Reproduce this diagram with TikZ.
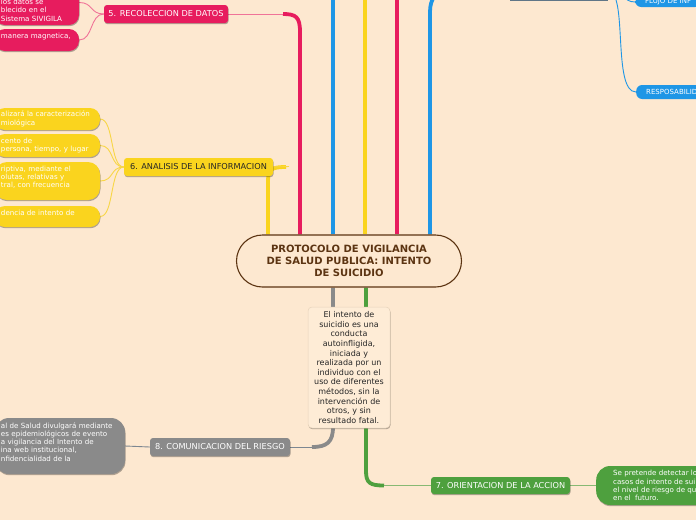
\documentclass[tikz,border=0pt]{standalone}
\usepackage{fontspec}
\setmainfont{DejaVu Sans}
\usetikzlibrary{shadows}
\pgfdeclarelayer{back}
\pgfdeclarelayer{lines}
\pgfsetlayers{back,lines,main}
\definecolor{bgc}{RGB}{253,232,208}
\definecolor{pinkc}{RGB}{231,28,94}
\definecolor{pinkl}{RGB}{240,115,152}
\definecolor{yelc}{RGB}{250,212,30}
\definecolor{yell}{RGB}{248,214,70}
\definecolor{bluec}{RGB}{30,150,230}
\definecolor{grayc}{RGB}{138,138,138}
\definecolor{grayl}{RGB}{125,135,145}
\definecolor{greenc}{RGB}{78,160,62}
\definecolor{greenl}{RGB}{135,185,115}
\definecolor{brownc}{RGB}{92,52,18}
\definecolor{slatec}{RGB}{96,118,135}
\definecolor{descfill}{RGB}{254,236,214}
\definecolor{descline}{RGB}{230,210,186}
\tikzset{
  shad/.style={drop shadow={shadow xshift=0.5pt,shadow yshift=-1.2pt,opacity=0.3,fill=black}},
  lbl/.style={shad, rounded corners=3pt, inner sep=0pt, font=\fontsize{8.2}{9.8}\selectfont, text=white},
  leafbox/.style={shad, inner xsep=6pt, inner ysep=0pt, align=left, font=\fontsize{7.1}{8.3}\selectfont, text=white},
  bluebox/.style={fill=bluec, rounded corners=6pt, inner xsep=10pt, inner ysep=0pt, anchor=west, font=\fontsize{7}{8.3}\selectfont, text=white},
  trunk/.style={line width=3.8pt},
  twig/.style={line width=0.9pt},
  cenbox/.style={draw=brownc, line width=1.1pt, fill=bgc, rounded corners=26pt, minimum width=225pt, minimum height=52pt, align=center, text=brownc, font=\fontsize{10}{12.3}\selectfont\bfseries, inner sep=0pt},
  descbox/.style={shad, fill=descfill, draw=descline, line width=0.5pt, rounded corners=4pt, minimum width=82pt, minimum height=121pt, align=center, inner sep=0pt, font=\fontsize{8}{9.6}\selectfont, text=black!85},
}
\begin{document}
\begin{tikzpicture}[x=1pt,y=-1pt]
\begin{pgfonlayer}{back}
\fill[bgc] (0,0) rectangle (696,520);
\end{pgfonlayer}
\useasboundingbox (0,0) rectangle (696,520);
\clip (0,0) rectangle (696,520);

% central
\node[cenbox] (cen) at (349,261) {PROTOCOLO DE VIGILANCIA\\DE SALUD PUBLICA: INTENTO\\DE SUICIDIO};
\node[descbox] (desc) at (349,367.5) {El intento de\\suicidio es una\\conducta\\autoinfligida,\\iniciada y\\realizada por un\\individuo con el\\uso de diferentes\\métodos, sin la\\intervención de\\otros, y sin\\resultado fatal.};

% branch labels
\node[lbl, fill=pinkc, minimum width=124pt, minimum height=18pt] (n5) at (166,14) {5. RECOLECCION DE DATOS};
\node[lbl, fill=yelc, text=black!85, minimum width=149pt, minimum height=18pt] (n6) at (198.5,167) {6. ANALISIS DE LA INFORMACION};
\node[lbl, fill=greenc, minimum width=139pt, minimum height=17pt] (n7) at (500.5,485.5) {7. ORIENTACION DE LA ACCION};
\node[lbl, fill=grayc, minimum width=140pt, minimum height=18pt] (n8) at (220,447) {8. COMUNICACION DEL RIESGO};

% pink leaves
\node[leafbox, fill=pinkc, rounded corners=10pt, minimum height=41pt, text width=72pt] (p1) at (37,4.5) {\mbox{}\\\mbox{}\\los datos se\\blecido en el\\Sistema SIVIGILA};
\node[leafbox, fill=pinkc, rounded corners=10pt, minimum height=22pt, text width=72pt] (p2) at (37,40) {manera magnetica,\\\mbox{}};

% yellow leaves
\node[leafbox, fill=yelc, rounded corners=10pt, minimum height=22pt, text width=93pt] (y1) at (47.5,119) {alizará la caracterización\\miológica};
\node[leafbox, fill=yelc, rounded corners=10pt, minimum height=23pt, text width=93pt] (y2) at (47.5,145.5) {cento de\\persona, tiempo, y lugar};
\node[leafbox, fill=yelc, rounded corners=12pt, minimum height=38pt, text width=93pt] (y3) at (47.5,181) {riptiva, mediante el\\olutas, relativas y\\tral, con frecuencia\\\mbox{}};
\node[leafbox, fill=yelc, rounded corners=10pt, minimum height=21pt, text width=93pt] (y4) at (47.5,216.5) {dencia de intento de\\\mbox{}};

% gray leaf
\node[leafbox, fill=grayc, rounded corners=14pt, minimum height=56pt, text width=118pt] (g1) at (60,446) {al de Salud divulgará mediante\\es epidemiológicos de evento\\a vigilancia del Intento de\\ina web institucional,\\nfidencialidad de la\\\mbox{}};

% green leaf
\node[leafbox, fill=greenc, rounded corners=14pt, minimum height=39pt, inner xsep=17pt, anchor=west] (gr) at (596,485.5) {Se pretende detectar lo\\casos de intento de sui\\el nivel de riesgo de qu\\en el \ futuro.};

% top right blue area
\node[fill=slatec, minimum width=98pt, minimum height=20pt, inner sep=0pt] (tb) at (559,-9) {};
\node[bluebox, minimum height=10pt] (fl) at (635,2) {FLUJO DE INF};
\node[bluebox, minimum height=14pt] (rs) at (636,92) {RESPOSABILID};

% offscreen targets
\coordinate (u3) at (333,-30);
\coordinate (u4) at (365,-30);
\coordinate (u5) at (397,-30);
\coordinate (j6) at (286,167);
\coordinate (j5) at (283,14);
\coordinate (j8) at (312,447);
\coordinate (j7) at (384,485.5);
\coordinate (jb) at (446,-9);

\begin{pgfonlayer}{lines}
% trunks from centre
\draw[trunk, yelc] (268,0 |- cen.north) -- (268,181) .. controls (268,169) and (272,167) .. (j6);
\draw[twig, yell] (n6.east) -- (289,166.5);
\draw[trunk, pinkc] (300,0 |- cen.north) -- (300,32) .. controls (300,17) and (296,14) .. (j5);
\draw[twig, pinkl] (n5.east) -- (j5);
\draw[trunk, bluec] (333,0 |- cen.north) -- (u3);
\draw[trunk, yelc] (365,0 |- cen.north) -- (u4);
\draw[trunk, pinkc] (397,0 |- cen.north) -- (u5);
\draw[trunk, bluec] (430,0 |- cen.north) -- (430,12) .. controls (430,-1) and (436,-9) .. (jb);
\draw[twig, bluec] (jb) -- (tb.west);
\draw[trunk, grayc] (333,0 |- cen.south) -- (333,427) .. controls (333,442) and (327,447) .. (j8);
\draw[twig, grayl] (j8) -- (n8.east);
\draw[trunk, greenc] (366,0 |- cen.south) -- (366,471) .. controls (366,483) and (370,485.5) .. (j7);
\draw[twig, greenl] (j7) -- (n7.west);
% leaves
\draw[twig, pinkl] (n5.west) .. controls +(-14,0) and +(14,0) .. ([yshift=2pt]p1.east);
\draw[twig, pinkl] (n5.west) .. controls +(-14,0) and +(14,0) .. (p2.east);
\draw[twig, yell] (n6.west) .. controls +(-14,0) and +(14,0) .. (y1.east);
\draw[twig, yell] (n6.west) .. controls +(-14,0) and +(14,0) .. (y2.east);
\draw[twig, yell] (n6.west) .. controls +(-14,0) and +(14,0) .. (y3.east);
\draw[twig, yell] (n6.west) .. controls +(-14,0) and +(14,0) .. (y4.east);
\draw[twig, grayl] (n8.west) -- (g1.east);
\draw[twig, greenl] (n7.east) -- (gr.west);
\draw[twig, bluec] (tb.east) .. controls +(16,0) and +(-12,0) .. (fl.west);
\draw[twig, bluec] (tb.east) .. controls +(20,0) and +(-24,0) .. (rs.west);
\end{pgfonlayer}
\end{tikzpicture}
\end{document}
